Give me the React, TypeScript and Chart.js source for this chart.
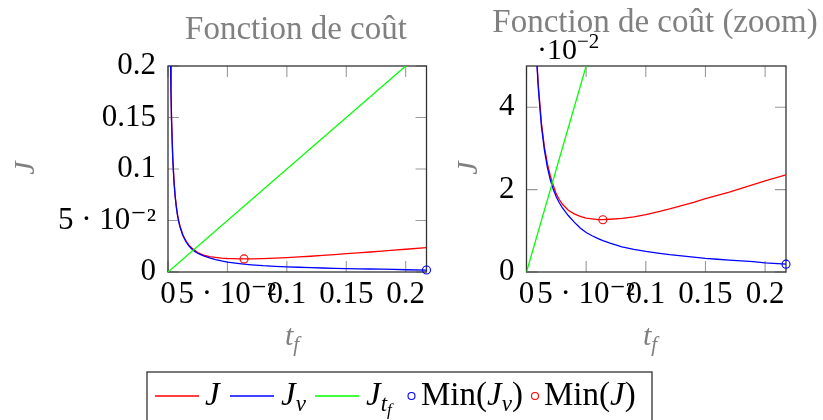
import React, { useEffect, useRef } from 'react';
import { Chart, registerables } from 'chart.js';

Chart.register(...registerables);

// Final time t_f sampled along the curves
const tf = [
  0.0015, 0.002, 0.0025, 0.003, 0.004, 0.005, 0.006, 0.007, 0.008, 0.009, 0.01,
  0.0125, 0.015, 0.0175, 0.02, 0.0225, 0.025, 0.0275, 0.03, 0.035, 0.04, 0.045,
  0.05, 0.055, 0.06, 0.064, 0.07, 0.08, 0.09, 0.1, 0.11, 0.12, 0.13, 0.14, 0.15,
  0.16, 0.17, 0.18, 0.19, 0.2, 0.2175,
];

// J_v : speed part of the cost
const jv = [
  0.29, 0.218, 0.175, 0.146, 0.11, 0.088, 0.0735, 0.063, 0.055, 0.049, 0.0442,
  0.0354, 0.0296, 0.0254, 0.0223, 0.02, 0.0182, 0.0168, 0.0156, 0.0137, 0.0121, 0.0107,
  0.0096, 0.0088, 0.0081, 0.0076, 0.007, 0.0061, 0.0055, 0.005, 0.0046, 0.0042, 0.0039, 0.0036, 0.0033,
  0.0031, 0.0029, 0.0027, 0.0025, 0.0022, 0.0019,
];

// J : total cost
const jTotal = [
  0.291, 0.219, 0.176, 0.147, 0.111, 0.089, 0.0743, 0.0638, 0.0558, 0.0498, 0.045,
  0.0362, 0.0304, 0.0263, 0.0233, 0.021, 0.0189, 0.0176, 0.0165, 0.015, 0.0141, 0.0135,
  0.0131, 0.0129, 0.0127, 0.0127, 0.0128, 0.013, 0.0134, 0.0139, 0.0146, 0.0153, 0.0161, 0.0169, 0.0178,
  0.0186, 0.0194, 0.0203, 0.0212, 0.0221, 0.0236,
];

// J_tf : time part of the cost (straight line)
const tfLine = [0, 0.2175];
const jtf = [0, 0.2175];

// Minima [t_f, value]
const minJv = [0.2175, 0.0019];
const minJ = [0.064, 0.0127];

const xTickValues = [0, 0.05, 0.1, 0.15, 0.2];
const xTickLabels = ['0', '5 · 10⁻²', '0.1', '0.15', '0.2'];
const yTickValuesFull = [0, 0.05, 0.1, 0.15, 0.2];
const yTickLabelsFull = ['0', '5 · 10⁻²', '0.1', '0.15', '0.2'];
const yTickValuesZoom = [0, 0.02, 0.04];
const yTickLabelsZoom = ['0', '2', '4'];

const X_MAX = 0.2175;
const SERIF = '"Liberation Serif", "DejaVu Serif", serif';
const GRAY = '#808080';

// Inward tick marks on all four sides plus the box around the plot area
const frameTicks = {
  id: 'frameTicks',
  beforeDatasetsDraw(chart: any) {
    const { ctx, chartArea: a, scales } = chart;
    const L = 11;
    ctx.save();
    ctx.strokeStyle = '#9a9a9a';
    ctx.lineWidth = 1.1;
    ctx.beginPath();
    for (const t of scales.x.ticks) {
      const px = scales.x.getPixelForValue(t.value);
      ctx.moveTo(px, a.bottom);
      ctx.lineTo(px, a.bottom - L);
      ctx.moveTo(px, a.top);
      ctx.lineTo(px, a.top + L);
    }
    for (const t of scales.y.ticks) {
      const py = scales.y.getPixelForValue(t.value);
      ctx.moveTo(a.left, py);
      ctx.lineTo(a.left + L, py);
      ctx.moveTo(a.right, py);
      ctx.lineTo(a.right - L, py);
    }
    ctx.stroke();
    ctx.strokeStyle = '#333';
    ctx.lineWidth = 1.3;
    ctx.strokeRect(a.left, a.top, a.right - a.left, a.bottom - a.top);
    ctx.restore();
  },
};

function pts(xs: number[], ys: number[]) {
  return xs.map((x, i) => ({ x, y: ys[i] }));
}

function makeConfig(
  yMax: number,
  yTicks: number[],
  yLabels: string[],
  yAxisWidth: number,
  padRight: number,
  xAxisHeight: number,
): any {
  const tickFont = { family: SERIF, size: 31 };
  const line = (data: any, color: string) => ({
    data,
    borderColor: color,
    backgroundColor: color,
    borderWidth: 1.3,
    pointRadius: 0,
    showLine: true,
    tension: 0,
  });
  const marker = (p: number[], color: string) => ({
    data: [{ x: p[0], y: p[1] }],
    borderColor: color,
    backgroundColor: 'rgba(0,0,0,0)',
    pointBorderColor: color,
    pointBackgroundColor: 'rgba(0,0,0,0)',
    pointBorderWidth: 1.1,
    pointRadius: 4,
    showLine: false,
    clip: false,
  });
  return {
    type: 'scatter',
    data: {
      datasets: [
        { label: 'Min(J)', ...marker(minJ, '#ff0000') },
        { label: 'Min(Jv)', ...marker(minJv, '#0000ff') },
        { label: 'Jtf', ...line(pts(tfLine, jtf), '#00ff00') },
        { label: 'Jv', ...line(pts(tf, jv), '#0000ff') },
        { label: 'J', ...line(pts(tf, jTotal), '#ff0000') },
      ],
    },
    options: {
      animation: false,
      responsive: false,
      devicePixelRatio: 1,
      events: [],
      layout: { padding: { top: 66, right: padRight, bottom: 0, left: 0 } },
      plugins: { legend: { display: false }, tooltip: { enabled: false }, title: { display: false } },
      scales: {
        x: {
          type: 'linear',
          min: 0,
          max: X_MAX,
          grid: { display: false, drawTicks: false },
          border: { display: false },
          afterBuildTicks: (s: any) => {
            s.ticks = xTickValues.map((v) => ({ value: v }));
          },
          afterFit: (s: any) => {
            s.height = xAxisHeight;
            s.paddingLeft = 0;
            s.paddingRight = 0;
          },
          ticks: {
            autoSkip: false,
            maxRotation: 0,
            minRotation: 0,
            padding: 4,
            color: '#000',
            font: tickFont,
            callback: (v: number) => xTickLabels[xTickValues.findIndex((t) => Math.abs(t - v) < 1e-9)],
          },
        },
        y: {
          type: 'linear',
          min: 0,
          max: yMax,
          grid: { display: false, drawTicks: false },
          border: { display: false },
          afterBuildTicks: (s: any) => {
            s.ticks = yTicks.map((v) => ({ value: v }));
          },
          afterFit: (s: any) => {
            s.width = yAxisWidth;
            s.paddingTop = 0;
            s.paddingBottom = 0;
          },
          ticks: {
            autoSkip: false,
            padding: 12,
            color: '#000',
            font: tickFont,
            callback: (v: number) => yLabels[yTicks.findIndex((t) => Math.abs(t - v) < 1e-9)],
          },
        },
      },
    },
    plugins: [frameTicks],
  };
}

function CostChart(props: {
  left: number;
  width: number;
  yMax: number;
  yTicks: number[];
  yLabels: string[];
  yAxisWidth: number;
  padRight: number;
}) {
  const ref = useRef<HTMLCanvasElement>(null);
  const height = 330;
  useEffect(() => {
    if (!ref.current) return;
    const chart = new Chart(
      ref.current,
      makeConfig(props.yMax, props.yTicks, props.yLabels, props.yAxisWidth, props.padRight, height - 272),
    );
    return () => chart.destroy();
  }, []);
  return (
    <canvas
      ref={ref}
      width={props.width}
      height={height}
      style={{ position: 'absolute', left: props.left, top: 0, width: props.width, height }}
    />
  );
}

export default function App() {
  const legendY = 396;
  const textY = 405;
  return (
    <div
      style={{
        position: 'fixed',
        left: 0,
        top: 0,
        width: 823,
        height: 420,
        background: '#fff',
        overflow: 'hidden',
      }}
    >
      <CostChart
        left={0}
        width={440}
        yMax={0.2}
        yTicks={yTickValuesFull}
        yLabels={yTickLabelsFull}
        yAxisWidth={168}
        padRight={13.5}
      />
      <CostChart
        left={440}
        width={383}
        yMax={0.05}
        yTicks={yTickValuesZoom}
        yLabels={yTickLabelsZoom}
        yAxisWidth={86.5}
        padRight={37}
      />
      <svg
        width={823}
        height={420}
        style={{ position: 'absolute', left: 0, top: 0, pointerEvents: 'none' }}
        fontFamily={SERIF}
      >
        {/* titles */}
        <text x={296} y={39} textAnchor="middle" fontSize={33} fill={GRAY}>
          Fonction de coût
        </text>
        <text x={655} y={31.5} textAnchor="middle" fontSize={33} fill={GRAY}>
          Fonction de coût (zoom)
        </text>
        {/* scale factor of the zoomed y axis */}
        <text x={537} y={59} fontSize={30} fill="#000">
          ·10
          <tspan dy={-11} fontSize={21}>
            −2
          </tspan>
        </text>
        {/* y axis labels */}
        <text transform="translate(34,168) rotate(-90)" textAnchor="middle" fontSize={30} fontStyle="italic" fill={GRAY}>
          J
        </text>
        <text transform="translate(477,168) rotate(-90)" textAnchor="middle" fontSize={30} fontStyle="italic" fill={GRAY}>
          J
        </text>
        {/* x axis labels */}
        <text x={285} y={345} fontSize={30} fontStyle="italic" fill={GRAY}>
          t
          <tspan dy={6} fontSize={21}>
            f
          </tspan>
        </text>
        <text x={643} y={345} fontSize={30} fontStyle="italic" fill={GRAY}>
          t
          <tspan dy={6} fontSize={21}>
            f
          </tspan>
        </text>
        {/* legend */}
        <rect x={147} y={372} width={505} height={70} fill="#fff" stroke="#333" strokeWidth={1.3} />
        <line x1={155} y1={legendY} x2={199} y2={legendY} stroke="#ff0000" strokeWidth={1.3} />
        <text x={205} y={textY} fontSize={33} fontStyle="italic" fill="#000">
          J
        </text>
        <line x1={230} y1={legendY} x2={274} y2={legendY} stroke="#0000ff" strokeWidth={1.3} />
        <text x={281} y={textY} fontSize={33} fontStyle="italic" fill="#000">
          J
          <tspan dy={6} fontSize={23}>
            v
          </tspan>
        </text>
        <line x1={315} y1={legendY} x2={359} y2={legendY} stroke="#00ff00" strokeWidth={1.3} />
        <text x={366} y={textY} fontSize={33} fontStyle="italic" fill="#000">
          J
          <tspan dy={6} fontSize={23}>
            t
          </tspan>
          <tspan dy={4} fontSize={17}>
            f
          </tspan>
        </text>
        <circle cx={411.5} cy={legendY} r={3.5} fill="none" stroke="#0000ff" strokeWidth={1.1} />
        <text x={421} y={textY} fontSize={33} fill="#000">
          Min(
          <tspan fontStyle="italic">J</tspan>
          <tspan dy={6} fontSize={23} fontStyle="italic">
            v
          </tspan>
          <tspan dy={-6}>)</tspan>
        </text>
        <circle cx={535} cy={legendY} r={3.5} fill="none" stroke="#ff0000" strokeWidth={1.1} />
        <text x={544} y={textY} fontSize={33} fill="#000">
          Min(
          <tspan fontStyle="italic">J</tspan>)
        </text>
      </svg>
    </div>
  );
}
